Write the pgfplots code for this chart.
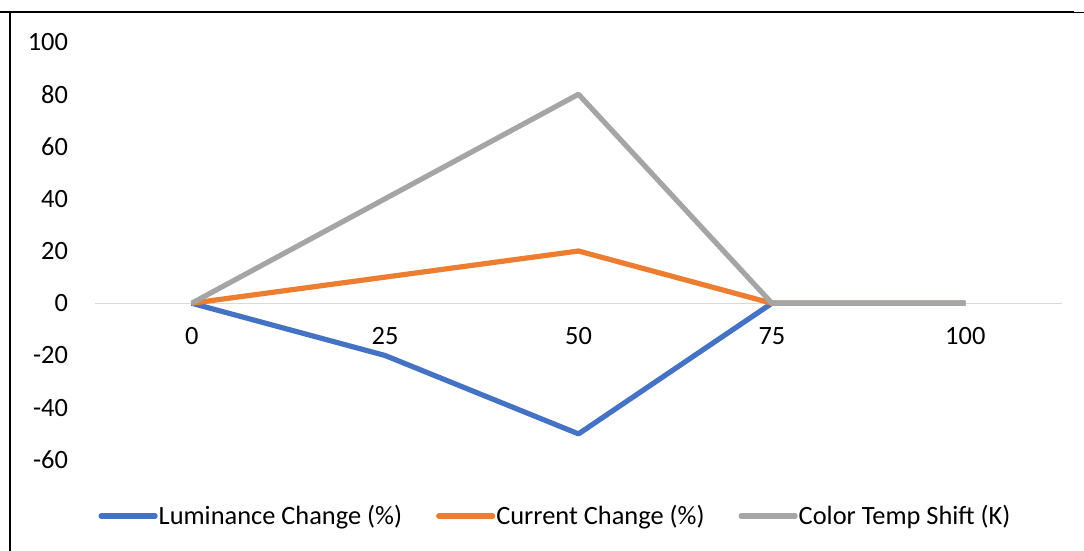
\documentclass[border=0pt]{standalone}
\usepackage{fontspec}
\setmainfont{Carlito}
\usepackage{pgfplots}
\pgfplotsset{compat=1.18}
\definecolor{cBlue}{HTML}{4472C4}
\definecolor{cOrange}{HTML}{ED7D31}
\definecolor{cGray}{HTML}{A5A5A5}
\definecolor{cZero}{HTML}{D9D9D9}
\begin{document}
\begin{tikzpicture}
\path[use as bounding box] (0pt,0pt) rectangle (542pt,-275.5pt);
\draw[black, line width=1pt] (0pt,-6pt) -- (537pt,-6pt);
\draw[black, line width=0.5pt] (537pt,-6.5pt) -- (542pt,-6.5pt);
\draw[black, line width=1pt] (4.8pt,-6pt) -- (4.8pt,-275.5pt);
\begin{axis}[
  at={(47.5pt,-230pt)}, anchor=south west,
  scale only axis, width=483.5pt, height=209pt,
  xmin=-12.5, xmax=112.5, ymin=-60, ymax=100,
  axis x line=middle, axis y line=left,
  x axis line style={draw=cZero, line width=0.6pt, -},
  y axis line style={draw=none},
  xtick={0,25,50,75,100}, ytick={-60,-40,-20,0,20,40,60,80,100},
  major tick length=0pt,
  tick style={draw=none},
  /pgf/number format/assume math mode=true,
  ticklabel style={font=\fontsize{13.2}{15}\selectfont},
  xticklabel style={anchor=north, yshift=-8.6pt},
  yticklabel style={anchor=east, xshift=-10pt},
  legend columns=3,
  legend style={draw=none, fill=none, at={(rel axis cs:0.4757,-0.134)}, anchor=center,
    font=\fontsize{13.2}{15}\selectfont,
    /tikz/every even column/.append style={column sep=16.5pt},
    nodes={inner sep=0.5pt}},
  legend image code/.code={\draw[#1, line cap=round] (0pt,0pt) -- (27pt,0pt);},
  every axis plot/.append style={line width=2.6pt, line join=round, mark=none},
]
\addplot[cBlue] table {
x y
0 0
25 -20
50 -50
75 0
100 0
};
\addlegendentry{Luminance Change (\%)}
\addplot[cOrange] table {
x y
0 0
25 10
50 20
75 0
100 0
};
\addlegendentry{Current Change (\%)}
\addplot[cGray] table {
x y
0 0
25 40
50 80
75 0
100 0
};
\addlegendentry{Color Temp Shift (K)}
\end{axis}
\end{tikzpicture}
\end{document}
